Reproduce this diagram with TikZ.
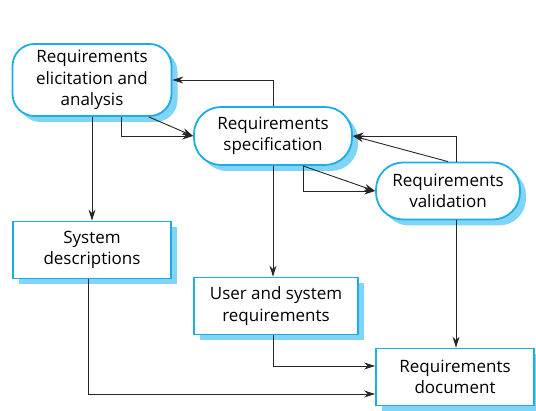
\documentclass[tikz,border=0pt]{standalone}
\usepackage{fontspec}
\setmainfont{Open Sans}
\usetikzlibrary{arrows.meta,shadows}

\definecolor{reqblue}{HTML}{1AAEE5}
\definecolor{reqshadow}{HTML}{80D4F6}

\tikzset{
  activity/.style={draw=reqblue, line width=1.8pt, fill=white, rounded corners=27pt,
    align=center, minimum width=158pt, minimum height=58pt, inner sep=1pt,
    general shadow={fill=reqshadow, shadow xshift=6pt, shadow yshift=-6pt},
    font=\fontsize{17}{21.5}\selectfont},
  docbox/.style={activity, rounded corners=0pt},
  flow/.style={draw=black!85, line width=0.9pt, -{Stealth[length=11pt,width=7pt]}}
}

\begin{document}
\begin{tikzpicture}[node distance=170pt]
\useasboundingbox (0,0) rectangle (536pt,-411pt);

\node (A) [activity, minimum width=159pt, minimum height=72pt, rounded corners=22pt] at (92pt,-80pt) {Requirements\\elicitation and\\analysis};
\node (B) [activity, right of=A, xshift=11pt, yshift=-56pt] {Requirements\\specification};
\node (C) [activity, right of=B, xshift=5pt, yshift=-55pt, minimum width=144pt, minimum height=57pt] {Requirements\\validation};
\node (D) [docbox, below of=A, minimum height=57pt] {System\\descriptions};
\node (E) [docbox, below of=B, xshift=3pt, minimum width=164pt, minimum height=57pt] {User and system\\requirements};
\node (F) [docbox, below of=C, xshift=7pt, yshift=-16pt, minimum height=57pt] {Requirements\\document};

\draw[flow] (B.north) |- (A.east);
\draw[flow] ([xshift=29pt]A.south) |- (B.west);
\draw[flow] (A.-33) -- (B.west);
\draw[flow] (A.south) -- (D.north);
\draw[flow] ([xshift=30pt]B.south) |- (C.west);
\draw[flow] ([xshift=30pt]B.south) -- (C.west);
\draw[flow] ([xshift=8pt]C.north) |- (B.east);
\draw[flow] (C.north) -- (B.east);
\draw[flow] (B.south) -- (B.south |- E.north);
\draw[flow] ([xshift=8pt]C.south) -- ([xshift=8pt]C.south |- F.north);
\draw[flow] ([xshift=-3pt]E.south) |- ([yshift=11pt]F.west);
\draw[flow] ([xshift=-4pt]D.south) |- ([yshift=-17pt]F.west);
\end{tikzpicture}
\end{document}
